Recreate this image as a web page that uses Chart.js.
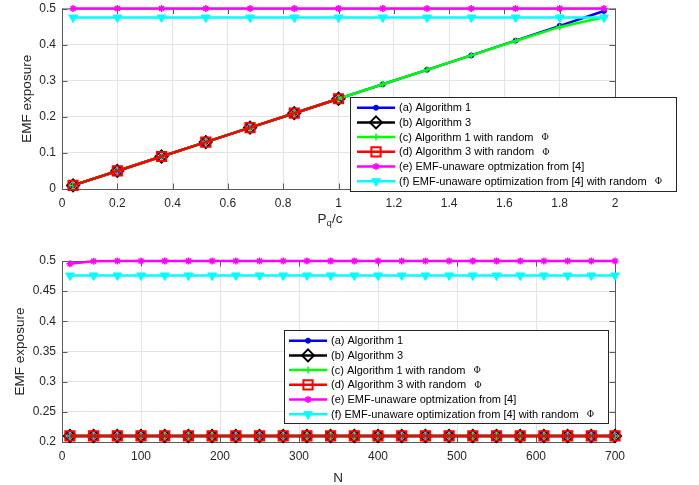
<!DOCTYPE html>
<html>
<head>
<meta charset="utf-8">
<script src="https://cdn.jsdelivr.net/npm/chart.js@4.4.0/dist/chart.umd.min.js"></script>
<style>
  html, body { margin: 0; padding: 0; background: #fff; }
  #wrap { position: relative; width: 699px; height: 485px; }
  canvas { position: absolute; left: 0; }
  #topChart { top: 0; }
  #botChart { top: 240px; }
</style>
</head>
<body>
<div id="wrap">
  <canvas id="topChart" width="699" height="240"></canvas>
  <canvas id="botChart" width="699" height="245"></canvas>
</div>
<script>
// top panel: EMF exposure vs P_q/c
const pq = [0.04, 0.2, 0.36, 0.52, 0.68, 0.84, 1.0, 1.16, 1.32, 1.48, 1.64, 1.8, 1.96];
const topAlg1 = [0.01, 0.05, 0.09, 0.13, 0.17, 0.21, 0.25, 0.29, 0.33, 0.37, 0.411, 0.452, 0.493];
const topAlg3 = [0.01, 0.05, 0.09, 0.13, 0.17, 0.21, 0.25, null, null, null, null, null, null];
const topAlg1Rand = [0.01, 0.05, 0.09, 0.13, 0.17, 0.21, 0.25, 0.29, 0.33, 0.37, 0.41, 0.449, 0.476];
const topAlg3Rand = [0.01, 0.05, 0.09, 0.13, 0.17, 0.21, 0.25, null, null, null, null, null, null];
const topUnaware = [0.5, 0.5, 0.5, 0.5, 0.5, 0.5, 0.5, 0.5, 0.5, 0.5, 0.5, 0.5, 0.5];
const topUnawareRand = [0.475, 0.475, 0.475, 0.475, 0.475, 0.475, 0.475, 0.475, 0.475, 0.475, 0.475, 0.475, 0.475];

// bottom panel: EMF exposure vs N
const nVals = [10, 40, 70, 100, 130, 160, 190, 220, 250, 280, 310, 340, 370, 400, 430, 460, 490, 520, 550, 580, 610, 640, 670, 700];
const botAlg1 = [0.21, 0.21, 0.21, 0.21, 0.21, 0.21, 0.21, 0.21, 0.21, 0.21, 0.21, 0.21, 0.21, 0.21, 0.21, 0.21, 0.21, 0.21, 0.21, 0.21, 0.21, 0.21, 0.21, 0.21];
const botAlg3 = [0.21, 0.21, 0.21, 0.21, 0.21, 0.21, 0.21, 0.21, 0.21, 0.21, 0.21, 0.21, 0.21, 0.21, 0.21, 0.21, 0.21, 0.21, 0.21, 0.21, 0.21, 0.21, 0.21, 0.21];
const botAlg1Rand = [0.21, 0.21, 0.21, 0.21, 0.21, 0.21, 0.21, 0.21, 0.21, 0.21, 0.21, 0.21, 0.21, 0.21, 0.21, 0.21, 0.21, 0.21, 0.21, 0.21, 0.21, 0.21, 0.21, 0.21];
const botAlg3Rand = [0.21, 0.21, 0.21, 0.21, 0.21, 0.21, 0.21, 0.21, 0.21, 0.21, 0.21, 0.21, 0.21, 0.21, 0.21, 0.21, 0.21, 0.21, 0.21, 0.21, 0.21, 0.21, 0.21, 0.21];
const botUnaware = [0.4955, 0.4995, 0.5, 0.5, 0.5, 0.5, 0.5, 0.5, 0.5, 0.5, 0.5, 0.5, 0.5, 0.5, 0.5, 0.5, 0.5, 0.5, 0.5, 0.5, 0.5, 0.5, 0.5, 0.5];
const botUnawareRand = [0.476, 0.476, 0.476, 0.476, 0.476, 0.476, 0.476, 0.476, 0.476, 0.476, 0.476, 0.476, 0.476, 0.476, 0.476, 0.476, 0.476, 0.476, 0.476, 0.476, 0.476, 0.476, 0.476, 0.476];

const seriesLabels = [
  '(a) Algorithm 1',
  '(b) Algorithm 3',
  '(c) Algorithm 1 with random Φ',
  '(d) Algorithm 3 with random Φ',
  '(e) EMF-unaware optmization from [4]',
  '(f) EMF-unaware optimization from [4] with random Φ'
];

const FONT = "'Liberation Sans', Arial, Helvetica, sans-serif";
Chart.defaults.font.family = FONT;

// marker look of each series, MATLAB style
const styles = [
  { color: '#0000ff', pointStyle: 'circle', radius: 2.5, bw: 1, fill: '#0000ff' },
  { color: '#000000', pointStyle: 'rectRot', radius: 6, bw: 2, fill: 'rgba(0,0,0,0)' },
  { color: '#00ff00', pointStyle: 'cross', radius: 3.5, bw: 1.5, fill: '#00ff00' },
  { color: '#ff0000', pointStyle: 'rect', radius: 6.5, bw: 2, fill: 'rgba(0,0,0,0)' },
  { color: '#ff00ff', pointStyle: 'star', radius: 3.5, bw: 1.5, fill: '#ff00ff' },
  { color: '#00ffff', pointStyle: 'triangle', radius: 5, bw: 1, fill: '#00ffff', rotation: 180 }
];

function makeDatasets(xs, seriesList) {
  return seriesList.map((ys, i) => {
    const s = styles[i];
    return {
      label: seriesLabels[i],
      data: xs.map((x, k) => ({ x: x, y: ys[k] })),
      borderColor: s.color,
      backgroundColor: s.fill,
      borderWidth: 2.5,
      pointStyle: s.pointStyle,
      pointRadius: s.radius,
      pointBorderWidth: s.bw,
      pointBorderColor: s.color,
      pointBackgroundColor: s.fill,
      pointRotation: s.rotation || 0,
      order: 5 - i,
      clip: false,
      spanGaps: false
    };
  });
}

const fmt = v => String(+Number(v).toFixed(3));

function drawMarker(ctx, s, x, y) {
  ctx.fillStyle = s.fill;
  ctx.strokeStyle = s.color;
  ctx.lineWidth = s.bw;
  Chart.helpers.drawPoint(ctx, { pointStyle: s.pointStyle, radius: s.radius, rotation: s.rotation || 0, borderWidth: s.bw }, x, y);
}

// box, inward ticks, axis titles and legend drawn the MATLAB way
function matlabPlugin(o) {
  return {
    id: 'matlab',
    beforeDatasetsDraw(chart) {
      const ctx = chart.ctx;
      const a = chart.chartArea;
      const xs = chart.scales.x, ys = chart.scales.y;
      ctx.save();
      ctx.strokeStyle = '#5a5a5a';
      ctx.lineWidth = 1;
      ctx.strokeRect(a.left + 0.5, a.top + 0.5, a.right - a.left, a.bottom - a.top);
      ctx.beginPath();
      xs.ticks.forEach(t => {
        const px = Math.round(xs.getPixelForValue(t.value)) + 0.5;
        ctx.moveTo(px, a.bottom); ctx.lineTo(px, a.bottom - 5.5);
        ctx.moveTo(px, a.top); ctx.lineTo(px, a.top + 5.5);
      });
      ys.ticks.forEach(t => {
        const py = Math.round(ys.getPixelForValue(t.value)) + 0.5;
        ctx.moveTo(a.left, py); ctx.lineTo(a.left + 5.5, py);
        ctx.moveTo(a.right, py); ctx.lineTo(a.right - 5.5, py);
      });
      ctx.stroke();
      ctx.restore();
    },
    afterDraw(chart) {
      const ctx = chart.ctx;
      const a = chart.chartArea;
      ctx.save();
      ctx.fillStyle = '#262626';
      // y title
      ctx.font = '13.5px ' + FONT;
      ctx.textAlign = 'center';
      ctx.textBaseline = 'middle';
      ctx.translate(o.yTitleX, (a.top + a.bottom) / 2);
      ctx.rotate(-Math.PI / 2);
      ctx.fillText('EMF exposure', 0, 0);
      ctx.restore();

      // x title (parts, second one is a subscript)
      ctx.save();
      ctx.fillStyle = '#262626';
      ctx.textBaseline = 'alphabetic';
      ctx.textAlign = 'left';
      let total = 0;
      o.xTitle.forEach(p => { ctx.font = p.size + 'px ' + FONT; total += ctx.measureText(p.t).width; });
      let cx = o.xTitleX - total / 2;
      o.xTitle.forEach(p => {
        ctx.font = p.size + 'px ' + FONT;
        ctx.fillText(p.t, cx, o.xTitleY + (p.dy || 0));
        cx += ctx.measureText(p.t).width;
      });
      ctx.restore();

      // legend
      const L = o.legend;
      ctx.save();
      ctx.fillStyle = '#ffffff';
      ctx.fillRect(L.x, L.y, L.w, L.h);
      ctx.strokeStyle = '#262626';
      ctx.lineWidth = 1;
      ctx.strokeRect(L.x + 0.5, L.y + 0.5, L.w, L.h);
      seriesLabels.forEach((lab, i) => {
        const s = styles[i];
        const y = L.y + L.row0 + i * L.rowH;
        ctx.strokeStyle = s.color;
        ctx.lineWidth = 2.5;
        ctx.beginPath();
        ctx.moveTo(L.x + L.s0, y);
        ctx.lineTo(L.x + L.s1, y);
        ctx.stroke();
        drawMarker(ctx, s, L.x + (L.s0 + L.s1) / 2, y);
        ctx.fillStyle = '#000000';
        ctx.textBaseline = 'middle';
        ctx.textAlign = 'left';
        const parts = lab.split('Φ');
        ctx.font = '11px ' + FONT;
        ctx.fillText(parts[0], L.x + L.tx, y + 0.5);
        if (parts.length > 1) {
          const w = ctx.measureText(parts[0]).width;
          ctx.font = '9px "DejaVu Serif", serif';
          ctx.fillText('Φ', L.x + L.tx + w + 5, y + 0.5);
        }
      });
      ctx.restore();
    }
  };
}

function makeChart(id, xs, seriesList, ax, o) {
  return new Chart(document.getElementById(id), {
    type: 'line',
    data: { datasets: makeDatasets(xs, seriesList) },
    options: {
      responsive: false,
      animation: false,
      events: [],
      layout: { padding: { left: 0, right: 84, top: o.padTop, bottom: 0 } },
      plugins: { legend: { display: false }, tooltip: { enabled: false } },
      scales: {
        x: {
          type: 'linear',
          min: ax.xMin, max: ax.xMax,
          ticks: { stepSize: ax.xStep, callback: fmt, color: '#262626', font: { size: 12 }, padding: 7, maxRotation: 0, autoSkip: false },
          grid: { color: '#e4e4e4', drawTicks: false },
          border: { display: false },
          afterFit: s => { s.height = o.xHeight; s.paddingLeft = 0; s.paddingRight = 0; }
        },
        y: {
          type: 'linear',
          min: ax.yMin, max: ax.yMax,
          ticks: { stepSize: ax.yStep, callback: fmt, color: '#262626', font: { size: 12 }, padding: 6 },
          grid: { color: '#e4e4e4', drawTicks: false },
          border: { display: false },
          afterFit: s => { s.width = 62; s.paddingTop = 0; s.paddingBottom = 0; }
        }
      }
    },
    plugins: [matlabPlugin(o)]
  });
}

makeChart('topChart', pq,
  [topAlg1, topAlg3, topAlg1Rand, topAlg3Rand, topUnaware, topUnawareRand],
  { xMin: 0, xMax: 2, xStep: 0.2, yMin: 0, yMax: 0.5, yStep: 0.1 },
  {
    padTop: 6, xHeight: 51, yTitleX: 27,
    xTitle: [{ t: 'P', size: 13.5 }, { t: 'q', size: 9.5, dy: 3 }, { t: '/c', size: 13.5 }],
    xTitleX: 330, xTitleY: 223,
    legend: { x: 350, y: 97, w: 326, h: 94, row0: 10.7, rowH: 14.7, s0: 7, s1: 45, tx: 49 }
  });

makeChart('botChart', nVals,
  [botAlg1, botAlg3, botAlg1Rand, botAlg3Rand, botUnaware, botUnawareRand],
  { xMin: 0, xMax: 700, xStep: 100, yMin: 0.2, yMax: 0.5, yStep: 0.05 },
  {
    padTop: 21, xHeight: 43, yTitleX: 20,
    xTitle: [{ t: 'N', size: 13.5 }],
    xTitleX: 338, xTitleY: 242,
    legend: { x: 284, y: 90, w: 324, h: 93, row0: 10.7, rowH: 14.7, s0: 5, s1: 43, tx: 47 }
  });
</script>
</body>
</html>
